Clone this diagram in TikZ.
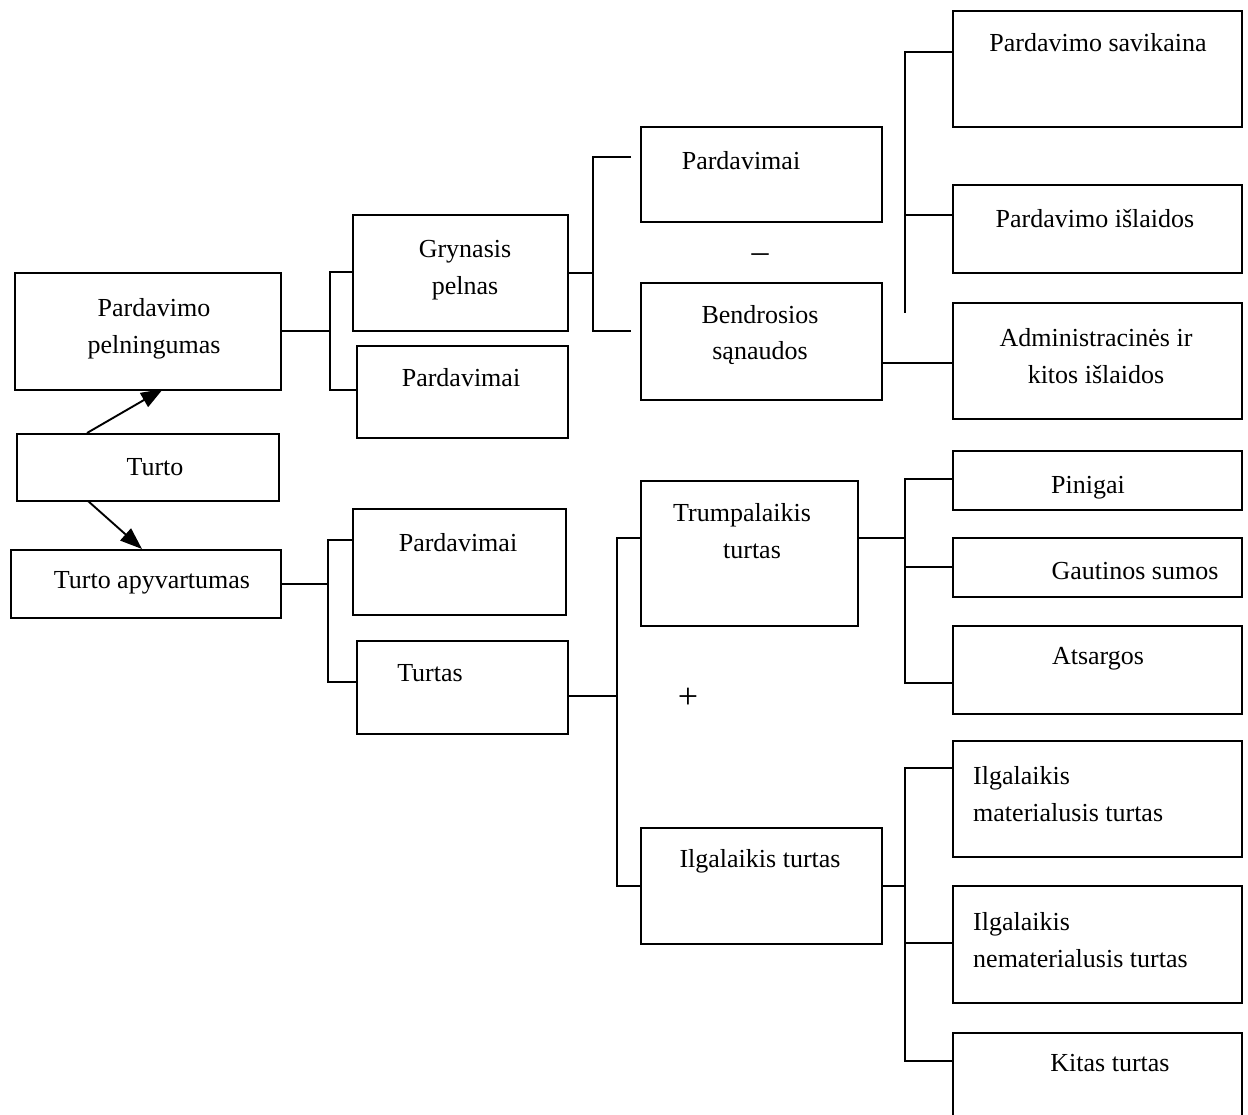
\documentclass[tikz,border=0pt]{standalone}
\usepackage{fontspec}
\setmainfont{Liberation Serif}
\usetikzlibrary{arrows.meta}
\begin{document}
\begin{tikzpicture}[x=1pt,y=-1pt,
  box/.style={draw, line width=1.9pt, inner sep=0pt, anchor=north west},
  txt/.style={font=\fontsize{26}{36.5}\selectfont, inner sep=0pt},
  conn/.style={line width=1.9pt},
  arr/.style={line width=1.9pt, -{Triangle[length=22pt,width=16pt]}}]
\useasboundingbox (0,0) rectangle (1248,1115);
\clip (0,0) rectangle (1248,1115);
% boxes
\node[box, minimum width=266pt, minimum height=117pt] (pp) at (14,272) {};
\node[box, minimum width=262pt, minimum height=67pt] (turto) at (16,433) {};
\node[box, minimum width=270pt, minimum height=68pt] (ta) at (10,549) {};
\node[box, minimum width=215pt, minimum height=116pt] (gp) at (352,214) {};
\node[box, minimum width=211pt, minimum height=92pt] (pa1) at (356,345) {};
\node[box, minimum width=241pt, minimum height=95pt] (pa2) at (640,126) {};
\node[box, minimum width=241pt, minimum height=117pt] (bs) at (640,282) {};
\node[box, minimum width=289pt, minimum height=116pt] (ps) at (952,10) {};
\node[box, minimum width=289pt, minimum height=88pt] (pi) at (952,184) {};
\node[box, minimum width=289pt, minimum height=116pt] (ad) at (952,302) {};
\node[box, minimum width=213pt, minimum height=106pt] (pa3) at (352,508) {};
\node[box, minimum width=211pt, minimum height=93pt] (tu) at (356,640) {};
\node[box, minimum width=217pt, minimum height=145pt] (tr) at (640,480) {};
\node[box, minimum width=289pt, minimum height=59pt] (pn) at (952,450) {};
\node[box, minimum width=289pt, minimum height=59pt] (gs) at (952,537) {};
\node[box, minimum width=289pt, minimum height=88pt] (at) at (952,625) {};
\node[box, minimum width=241pt, minimum height=116pt] (il) at (640,827) {};
\node[box, minimum width=289pt, minimum height=116pt] (im) at (952,740) {};
\node[box, minimum width=289pt, minimum height=117pt] (in) at (952,885) {};
\node[box, minimum width=289pt, minimum height=120pt] (kt) at (952,1032) {};
% texts
\node[txt, align=center] (ppt) at (154,329) {Pardavimo\\pelningumas};
\node[txt] (turtot) at (155,467) {Turto};
\node[txt] (tat) at (152,583) {Turto apyvartumas};
\node[txt, align=center] (gpt) at (465,270) {Grynasis\\pelnas};
\node[txt] (pa1t) at (461,378) {Pardavimai};
\node[txt] (pa2t) at (741,161) {Pardavimai};
\node[txt, font=\fontsize{34}{36}\selectfont] (minus) at (760,258) {–};
\node[txt, align=center] (bst) at (760,335) {Bendrosios\\sąnaudos};
\node[txt] (pst) at (1098,43) {Pardavimo savikaina};
\node[txt] (pit) at (1095,219) {Pardavimo išlaidos};
\node[txt, align=center] (adt) at (1096,356) {Administracinės ir\\kitos išlaidos};
\node[txt] (pa3t) at (458,543) {Pardavimai};
\node[txt] (tut) at (430,673) {Turtas};
\node[txt, align=center] (trt) at (742,531) {Trumpalaikis\\\hspace*{20pt}turtas};
\node[txt] (ilt) at (760,861) {Ilgalaikis turtas};
\node[txt] (pnt) at (1088,488) {Pinigai};
\node[txt] (gst) at (1135,571) {Gautinos sumos};
\node[txt] (att) at (1098,659) {Atsargos};
\node[txt, align=left, anchor=west] (imt) at (973,794) {Ilgalaikis\\materialusis turtas};
\node[txt, align=left, anchor=west] (int) at (973,940) {Ilgalaikis\\nematerialusis turtas};
\node[txt] (ktt) at (1110,1063) {Kitas turtas};
\node[txt, font=\fontsize{36}{36}\selectfont] (plus) at (688,698) {+};
% connectors: Pardavimo pelningumas
\coordinate (s1t) at (330,272); \coordinate (s1b) at (330,390);
\draw[conn] (pp.east) -- (pp.east -| s1t);
\draw[conn] (gp.west |- s1t) -- (s1t) -- (s1b) -- (pa1.west |- s1b);
% Grynasis pelnas
\coordinate (s2t) at (593,157); \coordinate (s2b) at (593,331);
\coordinate (s2te) at (631,157); \coordinate (s2be) at (631,331);
\draw[conn] (gp.east) -- (gp.east -| s2t);
\draw[conn] (s2te) -- (s2t) -- (s2b) -- (s2be);
% Bendrosios -> Administracines
\coordinate (bsj) at (881,363);
\draw[conn] (bsj) -- (bsj -| ad.west);
\coordinate (s3t) at (905,52); \coordinate (s3m) at (905,215); \coordinate (s3b) at (905,313);
\draw[conn] (ps.west |- s3t) -- (s3t) -- (s3b);
\draw[conn] (s3m) -- (pi.west |- s3m);
% Turto arrows
\coordinate (a1s) at (87,433); \coordinate (a1e) at (163,389);
\coordinate (a2s) at (88,501); \coordinate (a2e) at (142,549);
\draw[arr] (a1s) -- (a1e);
\draw[arr] (a2s) -- (a2e);
% Turto apyvartumas
\coordinate (s4t) at (328,540); \coordinate (s4b) at (328,682);
\draw[conn] (ta.east) -- (ta.east -| s4t);
\draw[conn] (pa3.west |- s4t) -- (s4t) -- (s4b) -- (tu.west |- s4b);
% Turtas
\coordinate (tuj) at (567,696);
\coordinate (s5t) at (617,538); \coordinate (s5b) at (617,886);
\draw[conn] (tuj) -- (tuj -| s5t);
\draw[conn] (tr.west |- s5t) -- (s5t) -- (s5b) -- (il.west |- s5b);
% Trumpalaikis
\coordinate (s6t) at (905,479); \coordinate (s6m) at (905,567); \coordinate (s6b) at (905,683);
\draw[conn] (tr.east |- s5t) -- (s6t |- s5t);
\draw[conn] (pn.west |- s6t) -- (s6t) -- (s6b) -- (at.west |- s6b);
\draw[conn] (s6m) -- (gs.west |- s6m);
% Ilgalaikis
\coordinate (s7t) at (905,768); \coordinate (s7m) at (905,943); \coordinate (s7b) at (905,1061);
\draw[conn] (il.east |- s5b) -- (s7t |- s5b);
\draw[conn] (im.west |- s7t) -- (s7t) -- (s7b) -- (kt.west |- s7b);
\draw[conn] (s7m) -- (in.west |- s7m);
\end{tikzpicture}
\end{document}
